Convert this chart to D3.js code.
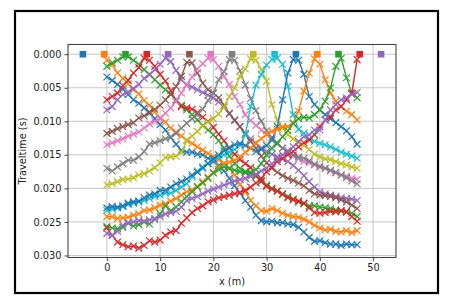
<!DOCTYPE html>
<html>
<head>
<meta charset="utf-8">
<script src="https://cdn.jsdelivr.net/npm/d3@7"></script>
<style>
  body { margin: 0; background: #fff; }
  text { font-family: "DejaVu Sans", sans-serif; fill: #222; }
</style>
</head>
<body>
<svg id="chart" width="459" height="303"></svg>
<script>
// Source positions (m) and receiver positions (m).
const sourceX = [-4.5, -0.5, 3.5, 7.5, 11.5, 15.5, 19.5, 23.5, 27.5, 31.5, 35.5, 39.5, 43.5, 47.5, 51.5];
const receiverX = [0, 1, 2, 3, 4, 5, 6, 7, 8, 9, 10, 11, 12, 13, 14, 15, 16, 17, 18, 19, 20, 21, 22, 23,
  24, 25, 26, 27, 28, 29, 30, 31, 32, 33, 34, 35, 36, 37, 38, 39, 40, 41, 42, 43, 44, 45, 46, 47];

// Traveltimes in ms, one array per source, one value per receiver.
const ttSrc0 = [3.4, 3.9, 4.5, 5.2, 6.0, 6.8, 7.3, 8.0, 8.8, 9.6, 10.5, 11.3, 12.4, 13.4, 14.3, 14.6, 14.6, 14.9, 15.0, 15.5,
  16.0, 16.6, 17.4, 18.5, 19.6, 20.7, 21.8, 22.8, 24.0, 24.8, 25.0, 24.9, 25.1, 25.1, 25.3, 25.4, 25.8, 26.5, 27.3, 27.9,
  27.8, 28.1, 28.3, 28.3, 28.5, 28.3, 28.4, 28.4];
const ttSrc1 = [0.9, 1.6, 2.8, 3.6, 4.4, 5.3, 5.9, 6.9, 7.6, 8.6, 9.5, 10.1, 11.0, 11.6, 12.2, 12.8, 13.3, 13.8, 14.3, 14.8,
  15.3, 15.7, 16.3, 17.0, 18.0, 19.4, 20.5, 21.8, 22.6, 23.3, 23.4, 23.0, 23.3, 23.7, 24.0, 24.2, 24.3, 24.6, 25.0, 25.5,
  25.9, 26.2, 26.1, 26.4, 26.5, 26.3, 26.6, 26.3];
const ttSrc2 = [1.8, 1.3, 0.9, 0.4, 0.4, 0.9, 1.5, 2.3, 3.0, 3.8, 4.6, 5.3, 5.9, 6.8, 7.6, 8.3, 9.0, 9.8, 10.6, 11.3,
  12.0, 12.9, 14.0, 15.2, 16.3, 17.0, 17.5, 17.8, 18.2, 18.8, 19.5, 20.0, 20.4, 20.8, 21.2, 21.6, 22.0, 22.3, 22.6, 22.6,
  22.8, 22.9, 23.0, 23.2, 23.4, 23.5, 23.7, 24.2];
const ttSrc3 = [6.8, 6.3, 5.8, 4.7, 3.9, 2.8, 2.0, 0.6, 0.9, 1.8, 3.0, 4.0, 5.4, 7.0, 7.8, 8.0, 8.2, 8.7, 9.4, 10.0,
  10.9, 11.9, 12.9, 14.0, 14.9, 15.7, 16.3, 16.9, 18.0, 19.0, 19.7, 20.1, 20.4, 20.9, 21.4, 21.7, 21.9, 22.2, 22.9, 23.6,
  23.7, 23.6, 23.4, 23.5, 23.3, 23.5, 24.2, 24.9];
const ttSrc4 = [8.3, 7.8, 6.8, 6.0, 5.6, 5.1, 4.5, 3.6, 3.1, 2.3, 1.5, 0.6, 1.1, 2.4, 3.8, 4.6, 4.9, 5.3, 5.7, 6.1,
  6.5, 7.1, 7.9, 8.9, 9.9, 10.8, 11.8, 12.6, 13.3, 14.0, 14.5, 14.9, 15.3, 15.6, 16.0, 16.6, 17.3, 18.1, 19.0, 19.8,
  20.5, 20.8, 21.0, 21.2, 21.4, 21.5, 21.6, 21.8];
const ttSrc5 = [11.8, 11.5, 11.1, 10.8, 10.5, 10.2, 9.5, 9.2, 8.6, 8.2, 7.6, 6.8, 6.0, 4.8, 3.3, 1.2, 1.3, 2.8, 4.3, 5.3,
  5.8, 6.5, 7.6, 8.8, 9.8, 10.8, 12.0, 13.0, 14.0, 15.2, 16.2, 17.0, 17.6, 18.1, 18.5, 18.8, 19.2, 19.6, 20.3, 20.8,
  21.0, 21.1, 21.2, 21.4, 21.7, 22.0, 22.5, 23.0];
const ttSrc6 = [13.5, 13.2, 12.9, 12.6, 12.2, 11.9, 11.6, 11.0, 10.4, 10.0, 9.6, 8.8, 8.0, 7.0, 5.8, 4.5, 3.4, 2.2, 1.4, 0.6,
  0.8, 1.8, 3.3, 4.5, 6.3, 7.5, 9.0, 9.9, 10.6, 11.3, 11.9, 12.6, 13.4, 14.0, 14.7, 15.2, 15.6, 16.0, 16.2, 16.5,
  16.7, 17.0, 17.4, 17.7, 18.0, 18.2, 18.5, 18.7];
const ttSrc7 = [17.0, 17.4, 16.8, 16.3, 15.8, 15.8, 15.3, 14.5, 13.4, 13.2, 12.9, 12.6, 12.3, 11.8, 11.0, 10.3, 9.6, 9.0, 8.2, 6.9,
  5.8, 3.8, 2.6, 0.8, 0.9, 2.5, 4.6, 6.6, 8.4, 10.0, 11.4, 12.4, 13.3, 14.0, 14.6, 15.0, 15.3, 15.5, 15.9, 16.4,
  16.8, 17.0, 17.3, 17.6, 18.0, 18.4, 18.9, 19.3];
const ttSrc8 = [19.5, 19.3, 19.0, 18.7, 18.6, 18.4, 18.0, 17.8, 17.4, 16.9, 16.2, 15.4, 15.3, 15.2, 14.6, 12.9, 12.2, 11.5, 10.7, 10.1,
  9.6, 8.9, 7.8, 6.3, 5.0, 3.3, 2.2, 0.7, 0.9, 2.3, 4.0, 7.5, 9.8, 11.0, 12.0, 12.6, 13.2, 13.6, 14.2, 14.9,
  15.3, 15.6, 15.7, 16.0, 16.3, 16.5, 16.8, 17.0];
const ttSrc9 = [23.3, 23.1, 22.9, 22.7, 22.4, 22.2, 22.0, 21.8, 21.5, 21.2, 21.0, 20.7, 20.7, 20.3, 19.8, 19.3, 18.3, 17.4, 16.8, 16.3,
  15.8, 15.4, 15.0, 14.6, 14.2, 13.6, 12.0, 7.8, 4.6, 3.0, 1.6, 0.8, 0.6, 1.5, 4.8, 9.0, 11.2, 11.8, 12.6, 13.0,
  13.3, 13.5, 13.8, 14.2, 14.6, 14.9, 15.2, 15.5];
const ttSrc10 = [22.9, 22.7, 22.8, 22.6, 22.2, 22.0, 21.9, 21.4, 21.0, 20.8, 20.3, 20.3, 19.8, 19.3, 19.0, 18.6, 18.0, 17.6, 17.0, 16.3,
  15.6, 15.0, 14.4, 13.9, 13.5, 13.3, 13.6, 14.0, 14.5, 14.2, 13.6, 12.8, 10.8, 6.8, 2.8, 0.8, 0.9, 3.0, 6.3, 7.5,
  8.3, 9.0, 9.6, 10.2, 10.8, 11.4, 12.3, 13.4];
const ttSrc11 = [24.2, 24.2, 24.5, 24.4, 24.3, 24.0, 23.8, 23.3, 23.2, 22.9, 22.5, 22.3, 21.9, 21.5, 21.0, 20.5, 20.2, 19.7, 19.0, 18.3,
  17.6, 16.8, 16.3, 16.1, 15.8, 15.3, 14.6, 14.0, 13.2, 12.6, 12.0, 11.5, 11.2, 10.8, 10.8, 10.3, 8.5, 5.5, 2.8, 0.7,
  1.5, 3.8, 5.8, 7.0, 7.8, 8.5, 9.0, 9.8];
const ttSrc12 = [25.7, 25.9, 26.0, 25.8, 25.2, 25.6, 25.4, 25.0, 25.3, 24.6, 23.8, 22.6, 23.3, 22.8, 22.0, 21.2, 20.5, 19.8, 19.2, 18.5,
  17.7, 17.2, 16.8, 17.0, 17.3, 17.5, 17.7, 17.6, 17.2, 16.3, 15.0, 14.0, 13.2, 12.3, 11.4, 10.3, 9.6, 9.4, 9.5, 9.0,
  8.3, 7.0, 5.0, 1.8, 0.6, 3.5, 5.8, 6.5];
const ttSrc13 = [25.9, 27.0, 28.0, 28.4, 28.7, 28.6, 28.9, 28.5, 27.8, 28.0, 27.7, 27.0, 26.5, 26.3, 25.2, 24.4, 23.6, 23.0, 22.6, 22.0,
  21.7, 21.4, 21.2, 21.0, 20.8, 20.6, 20.3, 19.8, 19.2, 18.5, 17.5, 16.8, 16.0, 15.5, 15.0, 14.5, 13.8, 13.2, 12.8, 12.0,
  10.8, 9.8, 9.3, 8.3, 7.8, 6.8, 5.8, 0.8];
const ttSrc14 = [26.7, 27.0, 26.4, 25.5, 25.1, 25.0, 24.8, 24.9, 24.7, 24.5, 24.2, 23.8, 23.6, 23.4, 22.8, 21.8, 21.5, 21.2, 20.8, 20.4,
  20.1, 19.8, 19.5, 19.2, 18.9, 18.7, 18.5, 18.2, 17.9, 17.4, 17.0, 16.3, 15.7, 15.0, 14.4, 13.8, 13.0, 12.3, 12.0, 11.3,
  11.3, 9.8, 8.3, 7.5, 6.8, 6.5, 6.0, 5.7];

const xTicks = [0, 10, 20, 30, 40, 50];
const yTicks = [0, 5, 10, 15, 20, 25, 30]; // ms
const yTickLabels = ["0.000", "0.005", "0.010", "0.015", "0.020", "0.025", "0.030"];

const traveltimes = [ttSrc0, ttSrc1, ttSrc2, ttSrc3, ttSrc4, ttSrc5, ttSrc6, ttSrc7,
  ttSrc8, ttSrc9, ttSrc10, ttSrc11, ttSrc12, ttSrc13, ttSrc14];

// Plot area in pixels.
const plotLeft = 68, plotRight = 396, plotTop = 44.5, plotBottom = 257.5;

const svg = d3.select("#chart");
const colors = d3.schemeCategory10;

const x = d3.scaleLinear().domain([-7.3, 54.3]).range([plotLeft, plotRight]);
// Traveltime axis runs downward (inverted).
const y = d3.scaleLinear().domain([-1.45, 30.3]).range([plotTop, plotBottom]);

// Outer figure frame.
svg.append("rect")
  .attr("x", 15).attr("y", 11)
  .attr("width", 423).attr("height", 282)
  .attr("fill", "none")
  .attr("stroke", "#000")
  .attr("stroke-width", 2.2);

// Grid lines.
const grid = svg.append("g").attr("stroke", "#b8b8b8").attr("stroke-width", 0.8);
grid.selectAll("line.gx").data(xTicks).enter().append("line")
  .attr("x1", d => x(d)).attr("x2", d => x(d))
  .attr("y1", plotTop).attr("y2", plotBottom);
grid.selectAll("line.gy").data(yTicks).enter().append("line")
  .attr("x1", plotLeft).attr("x2", plotRight)
  .attr("y1", d => y(d)).attr("y2", d => y(d));

// Clip the curves to the axes box.
svg.append("clipPath").attr("id", "clip")
  .append("rect").attr("x", plotLeft).attr("y", plotTop)
  .attr("width", plotRight - plotLeft).attr("height", plotBottom - plotTop);

const plot = svg.append("g").attr("clip-path", "url(#clip)");
const line = d3.line().x((d, i) => x(receiverX[i])).y(d => y(d));

traveltimes.forEach(function(tt, s) {
  const c = colors[s % 10];
  const g = plot.append("g");

  g.append("path")
    .attr("d", line(tt))
    .attr("fill", "none")
    .attr("stroke", c)
    .attr("stroke-width", 1.4);

  // "x" markers at each receiver.
  const m = 3.4;
  g.selectAll("path.mk").data(tt).enter().append("path")
    .attr("d", function(d, i) {
      const px = x(receiverX[i]), py = y(d);
      return "M" + (px - m) + "," + (py - m) + "L" + (px + m) + "," + (py + m) +
        "M" + (px - m) + "," + (py + m) + "L" + (px + m) + "," + (py - m);
    })
    .attr("stroke", c)
    .attr("stroke-width", 1.2)
    .attr("fill", "none");

  // Source marker on the surface.
  g.append("rect")
    .attr("x", x(sourceX[s]) - 3.3)
    .attr("y", y(0) - 3.3)
    .attr("width", 6.6).attr("height", 6.6)
    .attr("fill", c);
});

// Axes frame.
svg.append("rect")
  .attr("x", plotLeft).attr("y", plotTop)
  .attr("width", plotRight - plotLeft).attr("height", plotBottom - plotTop)
  .attr("fill", "none")
  .attr("stroke", "#444")
  .attr("stroke-width", 1.1);

const xAxis = d3.axisBottom(x).tickValues(xTicks).tickSize(3.5).tickPadding(3);
svg.append("g")
  .attr("transform", "translate(0," + plotBottom + ")")
  .call(xAxis)
  .call(g => g.select(".domain").remove())
  .call(g => g.selectAll("line").attr("stroke", "#444"))
  .call(g => g.selectAll("text").attr("font-size", 9.8).attr("fill", "#222")
    .attr("font-family", "DejaVu Sans, sans-serif"));

const yAxis = d3.axisLeft(y).tickValues(yTicks).tickSize(3.5).tickPadding(3)
  .tickFormat((d, i) => yTickLabels[i]);
svg.append("g")
  .attr("transform", "translate(" + plotLeft + ",0)")
  .call(yAxis)
  .call(g => g.select(".domain").remove())
  .call(g => g.selectAll("line").attr("stroke", "#444"))
  .call(g => g.selectAll("text").attr("font-size", 9.8).attr("fill", "#222")
    .attr("font-family", "DejaVu Sans, sans-serif"));

// Axis labels.
svg.append("text")
  .attr("x", (plotLeft + plotRight) / 2)
  .attr("y", 285)
  .attr("text-anchor", "middle")
  .attr("font-size", 9.8)
  .text("x (m)");

svg.append("text")
  .attr("transform", "translate(26," + ((plotTop + plotBottom) / 2) + ") rotate(-90)")
  .attr("text-anchor", "middle")
  .attr("font-size", 9.8)
  .text("Traveltime (s)");
</script>
</body>
</html>
